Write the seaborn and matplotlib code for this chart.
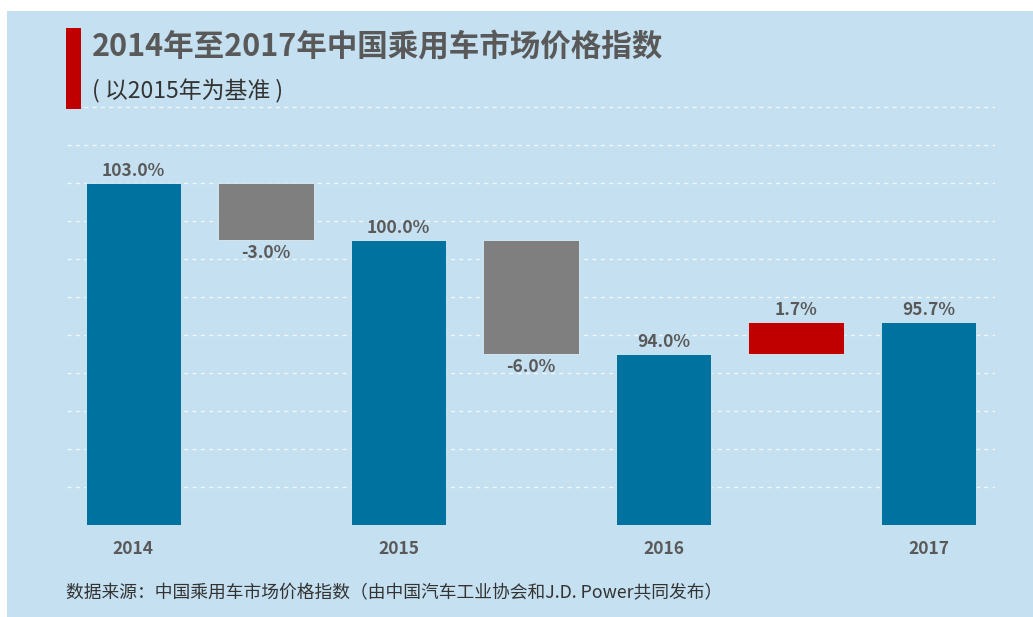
import numpy as np
import pandas as pd
import matplotlib
matplotlib.use("Agg")
import matplotlib.pyplot as plt
from matplotlib.patches import Rectangle
import seaborn as sns

# ---- data ----
categories = ["2014", "2014-2015", "2015", "2015-2016", "2016", "2016-2017", "2017"]
tick_labels = ["2014", "", "2015", "", "2016", "", "2017"]
values = [103.0, -3.0, 100.0, -6.0, 94.0, 1.7, 95.7]
kinds = ["total", "delta", "total", "delta", "total", "delta", "total"]

title = "2014年至2017年中国乘用车市场价格指数"
subtitle = "( 以2015年为基准 )"
source = "数据来源：中国乘用车市场价格指数（由中国汽车工业协会和J.D. Power共同发布）"

# ---- style ----
sns.set_theme(style="white")
plt.rcParams["font.family"] = ["Noto Sans CJK SC", "DejaVu Sans"]

BG = "#c5e0f0"
C_TOTAL = "#0072a0"
C_DOWN = "#7f7f7f"
C_UP = "#c00000"
TXT = "#595959"

# waterfall bottoms from the data
bottoms = []
last_total = 0.0
for v, k in zip(values, kinds):
    if k == "total":
        bottoms.append(0.0)
        last_total = v
    else:
        bottoms.append(last_total)
df = pd.DataFrame({"cat": categories, "val": values, "bottom": bottoms, "kind": kinds})

W, H = 1033, 617
fig = plt.figure(figsize=(W / 100, H / 100), dpi=100)
fig.patch.set_facecolor("white")
fig.patches.append(Rectangle((7 / W, 0), 1 - 7 / W, 1 - 11 / H, transform=fig.transFigure,
                             facecolor=BG, edgecolor="none", zorder=-10))

ymin, ymax = 85, 107.5
ax = fig.add_axes([67 / W, (H - 525) / H, 928 / W, (ymax - ymin) * 19 / H])
ax.set_zorder(1)
ax.set_facecolor("none")

sns.barplot(data=df, x="cat", y="val", order=categories, bottom=df["bottom"].tolist(),
            color=C_TOTAL, width=0.72, errorbar=None, ax=ax, zorder=3,
            edgecolor="#dbeef8", linewidth=0.6)

for patch, k, v in zip(ax.patches, kinds, values):
    if k == "total":
        patch.set_facecolor(C_TOTAL)
    elif v < 0:
        patch.set_facecolor(C_DOWN)
    else:
        patch.set_facecolor(C_UP)

ax.set_xlim(-0.5, len(categories) - 0.5)
ax.set_ylim(ymin, ymax)
ax.set_yticks(np.arange(87, 108, 2))
ax.set_yticklabels([])
ax.grid(axis="y", color="white", linestyle=(0, (3, 3)), linewidth=1.0, alpha=0.75)
ax.grid(axis="x", visible=False)
ax.set_axisbelow(True)
for s in ax.spines.values():
    s.set_visible(False)
ax.tick_params(axis="both", length=0)
ax.set_xticks(range(len(categories)))
ax.set_xticklabels(tick_labels, fontsize=12.5, fontweight="bold", color=TXT)
ax.tick_params(axis="x", pad=11)
ax.set_xlabel("")
ax.set_ylabel("")

for i, (v, b, k) in enumerate(zip(values, bottoms, kinds)):
    label = f"{v:.1f}%"
    if k == "total":
        ax.annotate(label, (i, v), xytext=(0, 2), textcoords="offset points",
                    ha="center", va="bottom", fontsize=12.5, fontweight="bold", color=TXT)
    elif v >= 0:
        ax.annotate(label, (i, b + v), xytext=(0, 2), textcoords="offset points",
                    ha="center", va="bottom", fontsize=12.5, fontweight="bold", color=TXT)
    else:
        ax.annotate(label, (i, b + v), xytext=(0, -3), textcoords="offset points",
                    ha="center", va="top", fontsize=12.5, fontweight="bold", color=TXT)

# title block
fig.patches.append(Rectangle((66 / W, 1 - 109 / H), 15 / W, 81 / H, transform=fig.transFigure,
                             facecolor=C_UP, edgecolor="none", zorder=5))
fig.text(92 / W, 1 - 47 / H, title, fontsize=22, fontweight="bold", color=TXT,
         ha="left", va="center")
fig.text(92 / W, 1 - 91 / H, subtitle, fontsize=16.5, style="italic", color="#333333",
         ha="left", va="center")
fig.text(66 / W, 1 - 593 / H, source, fontsize=12.8, style="italic", color="#333333",
         ha="left", va="center")

fig.savefig("out.png", dpi=100, facecolor=fig.get_facecolor())
